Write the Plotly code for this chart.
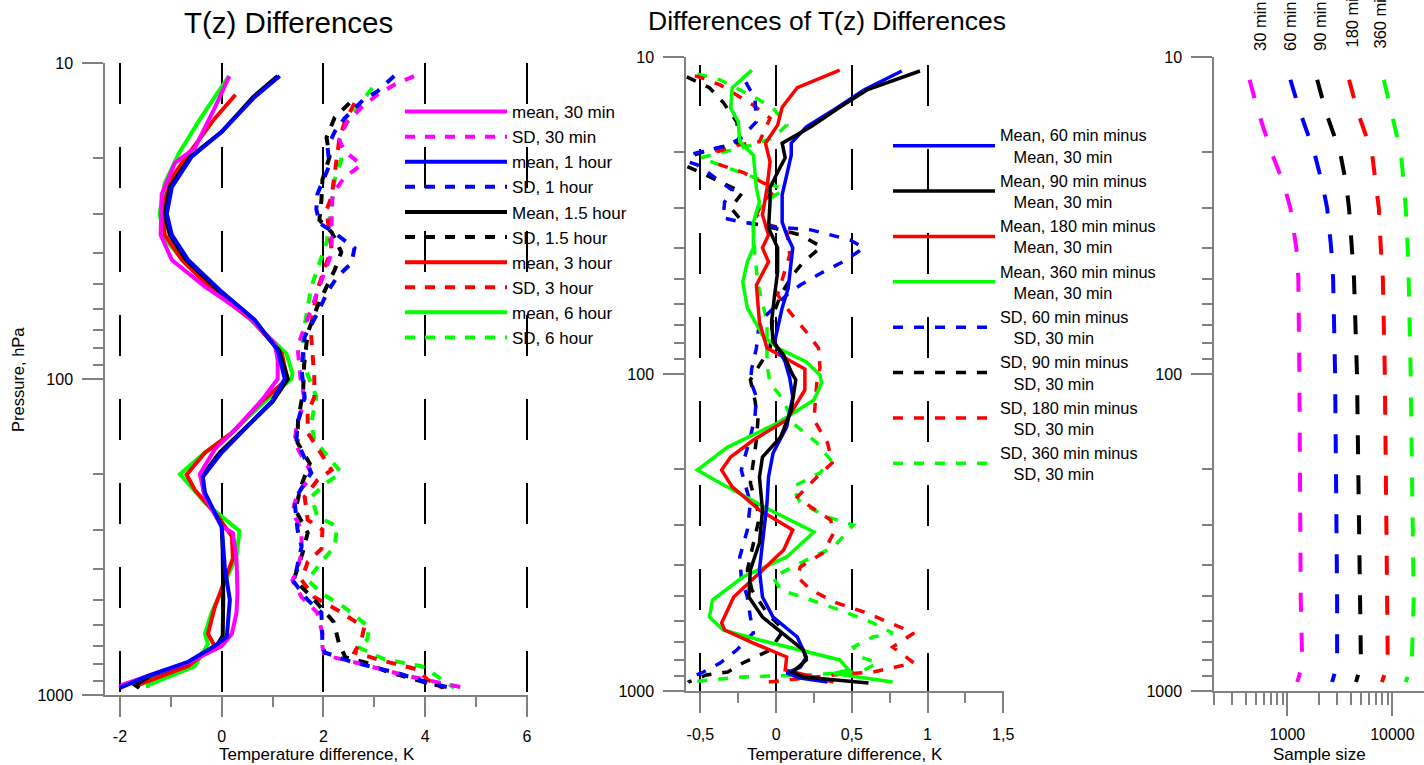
import plotly.graph_objects as go

W, H = 1424, 765
FONT = "Liberation Sans, Arial, sans-serif"

# ---------------- Left panel: T(z) differences (K) vs pressure (hPa) ----------------
p_m30 = [11, 14, 17.5, 18.6, 20.7, 26, 35, 42, 51, 62, 77, 87, 100, 116, 142, 167, 200, 236, 293, 307, 370, 475, 550, 640, 700, 790, 870, 930, 950]
t_m30 = [0.15, -0.15, -0.45, -0.53, -0.92, -1.18, -1.2, -0.98, -0.33, 0.45, 1.04, 1.1, 1.1, 0.8, 0.31, -0.14, -0.43, -0.33, 0.0, 0.22, 0.29, 0.31, 0.29, 0.2, 0.0, -0.66, -1.45, -1.96, -2.0]

p_m60 = [11, 12.8, 16.5, 19.8, 24.7, 30, 35, 42, 53, 65, 81, 100, 118, 145, 171, 204, 229, 293, 395, 500, 655, 700, 785, 870, 930, 950]
t_m60 = [1.14, 0.65, 0.0, -0.59, -0.98, -1.08, -0.98, -0.66, 0.0, 0.65, 1.1, 1.24, 0.98, 0.45, 0.0, -0.37, -0.33, 0.0, 0.06, 0.16, 0.1, -0.14, -0.66, -1.45, -1.9, -2.0]

p_m90 = [11, 12.8, 16.5, 19.8, 24.7, 30, 35, 42, 53, 65, 81, 100, 118, 145, 171, 204, 229, 293, 350, 500, 650, 700, 790, 870, 930, 950]
t_m90 = [1.1, 0.62, 0.0, -0.62, -1.02, -1.12, -1.02, -0.7, -0.04, 0.62, 1.12, 1.3, 1.0, 0.42, -0.04, -0.4, -0.35, 0.0, 0.02, 0.03, 0.02, -0.1, -0.66, -1.4, -1.7, -1.62]

p_m180 = [12.6, 15, 18.8, 23, 28.6, 35, 42, 53, 65, 83, 100, 118, 148, 171, 201, 224, 272, 315, 370, 436, 530, 640, 700, 810, 930, 950]
t_m180 = [0.27, -0.14, -0.59, -0.98, -1.16, -1.12, -0.78, -0.14, 0.59, 1.18, 1.29, 0.78, 0.2, -0.33, -0.69, -0.53, -0.08, 0.2, 0.22, 0.06, -0.14, -0.27, -0.14, -0.66, -1.65, -1.65]

p_m360 = [11, 15, 19.3, 24, 30, 36, 44, 53, 68, 83, 96, 100, 118, 148, 171, 200, 246, 272, 303, 364, 455, 550, 640, 690, 810, 930, 950]
t_m360 = [0.14, -0.42, -0.84, -1.12, -1.22, -1.12, -0.66, 0.0, 0.7, 1.27, 1.39, 1.37, 0.84, 0.2, -0.33, -0.82, -0.33, 0.0, 0.35, 0.29, 0.02, -0.2, -0.33, -0.27, -0.53, -1.45, -1.45]

p_s30 = [11, 11.7, 12.6, 13.8, 15.5, 17.5, 19, 21, 23, 26, 30.5, 40, 46, 53, 65, 79, 100, 116, 142, 159, 194, 205, 229, 264, 300, 355, 410, 433, 490, 549, 640, 705, 748, 792, 866, 912, 950]
t_s30 = [3.78, 3.4, 3.06, 2.75, 2.45, 2.31, 2.41, 2.75, 2.41, 2.18, 2.16, 2.16, 2.02, 1.88, 1.69, 1.49, 1.55, 1.63, 1.47, 1.43, 1.73, 1.76, 1.49, 1.39, 1.57, 1.57, 1.47, 1.39, 1.57, 1.88, 1.98, 1.98, 2.02, 2.67, 3.59, 4.24, 4.78]

p_s60 = [11, 12.3, 13, 15, 16.5, 18.5, 21, 23, 26, 29, 32.1, 34.5, 38.5, 43, 47.5, 53, 62, 73.5, 93.5, 114, 138, 156, 198, 219, 242, 300, 339, 402, 433, 500, 549, 682, 733, 785, 852, 913, 950]
t_s60 = [3.39, 3.06, 2.8, 2.41, 2.22, 2.08, 2.12, 2.02, 1.88, 1.86, 1.92, 2.22, 2.61, 2.55, 2.27, 2.08, 1.88, 1.63, 1.57, 1.63, 1.49, 1.47, 1.76, 1.59, 1.43, 1.49, 1.57, 1.47, 1.39, 1.69, 1.96, 1.98, 2.02, 2.55, 3.45, 4.04, 4.5]

p_s90 = [13.4, 14.9, 17.2, 19.8, 23.4, 27.1, 31.4, 34.3, 39.7, 45.2, 51.1, 59, 71.5, 90, 110, 135, 159, 185, 220, 260, 307, 355, 430, 500, 587, 682, 760, 792, 843, 875, 912, 950]
t_s90 = [2.51, 2.22, 2.06, 2.12, 1.98, 1.96, 1.92, 2.16, 2.35, 2.22, 2.06, 1.88, 1.69, 1.62, 1.6, 1.5, 1.49, 1.73, 1.55, 1.45, 1.69, 1.59, 1.42, 1.82, 2.2, 2.3, 2.43, 2.85, 3.24, 3.59, 4.0, 4.45]

p_s180 = [13.4, 15.5, 17.5, 22.9, 26.5, 29.2, 39, 42, 52.2, 63.6, 73.7, 98.8, 114, 128, 148, 194, 209, 236, 279, 300, 345, 379, 433, 490, 538, 610, 668, 733, 771, 830, 893, 950]
t_s180 = [2.61, 2.41, 2.31, 2.22, 2.16, 2.06, 2.16, 2.08, 1.88, 1.78, 1.76, 1.82, 1.82, 1.69, 1.69, 2.16, 1.88, 1.63, 1.69, 1.98, 1.96, 1.69, 1.57, 1.82, 2.27, 2.8, 2.75, 2.61, 3.06, 3.84, 4.04, 4.35]

p_s360 = [12, 15.4, 17.5, 20.3, 23.4, 27.7, 37.1, 43, 51.1, 61.9, 73.7, 91.6, 114, 138, 156, 198, 213, 236, 272, 293, 339, 379, 433, 476, 528, 610, 668, 705, 771, 811, 852, 950]
t_s360 = [2.96, 2.45, 2.31, 2.35, 2.22, 2.16, 2.06, 1.92, 1.76, 1.67, 1.59, 1.63, 1.86, 1.76, 1.82, 2.35, 2.06, 1.76, 1.88, 2.27, 2.22, 1.96, 1.69, 1.96, 2.41, 2.9, 2.86, 2.67, 3.2, 3.92, 4.14, 4.57]

# ---------------- Middle panel: differences of differences (K) ----------------
p_dm60 = [11.07, 12.7, 14.7, 16.6, 18.7, 20.4, 23.6, 27.2, 33.2, 36.4, 40.0, 53.6, 61.9, 79.3, 91.6, 103, 118.2, 146.9, 177.5, 211.3, 255.3, 341.3, 415, 505.1, 584.3, 675.6, 781.2, 840, 877.8, 910, 937]
t_dm60 = [0.83, 0.58, 0.38, 0.2, 0.1, 0.1, 0.07, 0.04, 0.04, 0.07, 0.11, 0.08, 0.04, -0.01, 0.06, 0.09, 0.11, 0.07, -0.02, -0.05, -0.06, -0.09, -0.11, -0.09, -0.02, 0.14, 0.2, 0.16, 0.07, 0.16, 0.34]

p_dm90 = [11.07, 12.7, 14.4, 16.6, 18.7, 20.8, 23.1, 25.9, 28.7, 34.6, 40.0, 47.7, 56.3, 68.5, 79.3, 87.1, 100.7, 104.4, 130, 158, 182.8, 211.3, 268.5, 341.3, 415, 505.1, 584.3, 675.6, 742.7, 798, 871, 903, 944]
t_dm90 = [0.95, 0.6, 0.42, 0.23, 0.04, 0.06, 0.01, -0.04, -0.04, -0.05, 0.01, 0.01, -0.01, -0.03, -0.02, 0.05, 0.11, 0.13, 0.1, 0.03, -0.09, -0.11, -0.09, -0.11, -0.17, -0.18, -0.09, 0.07, 0.18, 0.2, 0.11, 0.18, 0.61]

p_dm180 = [11.0, 12.5, 14.4, 16.4, 18.7, 21.4, 25.9, 31.5, 36.4, 40.0, 44.3, 52.4, 68.5, 82.8, 96.4, 112.3, 139.7, 161.5, 182.8, 200.9, 227, 268.5, 310.6, 359, 424.6, 505.1, 610.3, 642, 705.8, 781.2, 858.6, 937]
t_dm180 = [0.42, 0.14, 0.04, 0.01, -0.07, -0.04, -0.06, -0.09, -0.05, -0.09, -0.05, -0.13, -0.11, -0.06, 0.19, 0.19, 0.07, -0.15, -0.3, -0.36, -0.29, -0.11, 0.11, 0.05, -0.11, -0.28, -0.36, -0.34, -0.15, 0.07, 0.06, 0.38]

p_dm360 = [11.0, 11.8, 12.5, 14.5, 16.0, 18.5, 20.4, 25.9, 28.7, 33.2, 40.0, 44.3, 51.3, 61.9, 75.4, 82.8, 91.6, 100.7, 106.7, 120.8, 142.8, 170, 200.9, 220.7, 268.5, 315, 377.7, 436.9, 516.4, 584.3, 642, 690.4, 758.6, 798, 858.6, 880, 937]
t_dm360 = [-0.16, -0.23, -0.29, -0.3, -0.25, -0.24, -0.15, -0.13, -0.11, -0.15, -0.15, -0.19, -0.22, -0.19, -0.09, 0.01, 0.2, 0.29, 0.3, 0.25, 0.01, -0.32, -0.52, -0.37, -0.04, 0.25, 0.07, -0.22, -0.42, -0.44, -0.35, -0.11, 0.23, 0.42, 0.48, 0.38, 0.77]

p_ds60 = [12.0, 13.5, 16.0, 18.0, 19.0, 19.9, 20.8, 21.9, 24.1, 26.3, 28.7, 32.2, 33.2, 34.4, 35.1, 37.8, 40.0, 44.3, 47.7, 52.4, 56.3, 60.6, 68.5, 82.8, 95.7, 104.4, 118.2, 136.6, 158, 200.9, 255.3, 310.6, 377.7, 436.9, 505.1, 584.3, 656.2, 742.7, 816, 871, 910, 937]
t_ds60 = [-0.2, -0.14, -0.13, -0.23, -0.32, -0.48, -0.66, -0.52, -0.4, -0.29, -0.34, -0.35, -0.22, 0.0, 0.23, 0.49, 0.58, 0.44, 0.31, 0.16, 0.07, 0.0, -0.11, -0.13, -0.16, -0.17, -0.13, -0.14, -0.17, -0.23, -0.17, -0.19, -0.24, -0.23, -0.19, -0.17, -0.15, -0.26, -0.37, -0.48, -0.57, -0.58]

p_ds90 = [11.55, 12.5, 13.9, 16.0, 18.5, 19.0, 19.9, 21.4, 23.1, 24.8, 26.7, 29.9, 33.2, 33.9, 36.4, 39.7, 44.3, 48.7, 56.3, 65.2, 82.8, 104.4, 120.8, 139.7, 161.5, 186.8, 220.7, 282.6, 341.3, 415, 479.9, 567.5, 642, 742.7, 816, 871, 890, 937]
t_ds90 = [-0.59, -0.44, -0.35, -0.26, -0.24, -0.32, -0.48, -0.66, -0.5, -0.37, -0.22, -0.3, -0.22, -0.09, 0.16, 0.3, 0.18, 0.11, 0.03, -0.02, -0.04, -0.17, -0.14, -0.12, -0.13, -0.15, -0.17, -0.11, -0.15, -0.19, -0.16, -0.06, 0.05, -0.04, -0.22, -0.32, -0.46, -0.58]

p_ds180 = [11.0, 11.6, 12.25, 13.2, 14.2, 15.6, 18.5, 19.0, 19.9, 21.9, 23.1, 25.3, 26.7, 28.7, 31.5, 33.9, 35.1, 42.1, 48.7, 56.3, 63.7, 73.7, 82.8, 95.7, 104.4, 139.7, 165, 190.9, 211.3, 244.4, 262.8, 288.8, 317.4, 367, 406, 437, 480, 527.7, 567.5, 628.2, 656.2, 726.4, 816, 871, 890, 944]
t_ds180 = [-0.67, -0.5, -0.37, -0.26, -0.15, -0.04, -0.11, -0.26, -0.39, -0.37, -0.22, -0.06, -0.02, -0.09, -0.13, -0.04, 0.07, 0.09, 0.05, 0.01, 0.09, 0.2, 0.28, 0.29, 0.27, 0.25, 0.34, 0.37, 0.27, 0.14, 0.23, 0.36, 0.38, 0.31, 0.16, 0.14, 0.23, 0.4, 0.6, 0.82, 0.91, 0.77, 0.91, 0.64, 0.38, -0.11]

p_ds360 = [11.3, 11.8, 13.5, 14.5, 16.4, 18.0, 19.0, 19.9, 20.8, 23.1, 24.8, 26.3, 27.9, 30.8, 34.6, 42.1, 52.0, 68.5, 93.7, 106.7, 120.8, 142.8, 165, 186.8, 205, 227, 255.3, 282.6, 299.5, 351.4, 386.3, 436.9, 479.9, 516.4, 555, 610.3, 656.2, 675.6, 726.4, 781.2, 816, 871, 890, 903, 937]
t_ds360 = [-0.52, -0.37, -0.13, -0.02, 0.07, -0.02, -0.17, -0.35, -0.5, -0.24, -0.06, 0.05, -0.04, -0.13, -0.15, -0.14, -0.12, -0.06, -0.06, -0.04, 0.05, 0.11, 0.27, 0.36, 0.29, 0.11, 0.16, 0.34, 0.51, 0.38, 0.2, -0.02, 0.03, 0.23, 0.42, 0.64, 0.77, 0.64, 0.51, 0.56, 0.67, 0.56, 0.2, -0.22, -0.58]

# ---------------- Right panel: sample size vs pressure ----------------
p_n = [11.8, 15, 20, 25, 30, 40, 50, 100, 516, 828, 937]
n_30 = [436, 531, 706, 917, 1068, 1216, 1271, 1300, 1340, 1387, 1243]
n_60 = [1068, 1328, 1801, 2143, 2393, 2611, 2726, 2848, 2975, 2975, 2667]
n_90 = [1923, 2340, 3176, 3620, 3865, 4130, 4310, 4600, 4911, 5020, 4500]
n_180 = [3865, 4700, 6380, 6960, 7430, 7760, 8110, 8470, 9040, 9040, 7940]
n_360 = [8290, 9860, 12020, 12830, 13400, 13990, 14300, 14930, 15950, 15270, 13400]
n_labels = ["30 min", "60 min", "90 min", "180 min", "360 min"]

# tick labels
x1_ticks = [-2, 0, 2, 4, 6]
x1_text = ["-2", "0", "2", "4", "6"]
x2_ticks = [-0.5, 0, 0.5, 1, 1.5]
x2_text = ["-0,5", "0", "0,5", "1", "1,5"]
x3_ticks = [1000, 10000]
x3_text = ["1000", "10000"]
y_ticks = [10, 100, 1000]
y_text = ["10", "100", "1000"]

MAG, BLU, BLK, RED, GRN = "#ff00ff", "#0000ff", "#000000", "#ff0000", "#00ff00"

fig = go.Figure()

def add(x, y, name, color, dash, width, xa, ya, legend, rank, showlegend=True):
    fig.add_trace(go.Scatter(
        x=x, y=y, name=name, mode="lines", xaxis=xa, yaxis=ya,
        line=dict(color=color, width=width, dash=dash),
        legend=legend, legendrank=rank, showlegend=showlegend))

SD1 = "10px,10px"
# left panel (draw order: SD then mean)
add(t_s360, p_s360, "SD, 6 hour", GRN, SD1, 4, "x", "y", "legend", 10)
add(t_s180, p_s180, "SD, 3 hour", RED, SD1, 4, "x", "y", "legend", 8)
add(t_s90, p_s90, "SD, 1.5 hour", BLK, SD1, 4, "x", "y", "legend", 6)
add(t_s30, p_s30, "SD, 30 min", MAG, SD1, 4, "x", "y", "legend", 2)
add(t_s60, p_s60, "SD, 1 hour", BLU, SD1, 4, "x", "y", "legend", 4)
add(t_m360, p_m360, "mean, 6 hour", GRN, "solid", 4, "x", "y", "legend", 9)
add(t_m180, p_m180, "mean, 3 hour", RED, "solid", 4, "x", "y", "legend", 7)
add(t_m90, p_m90, "Mean, 1.5 hour", BLK, "solid", 4, "x", "y", "legend", 5)
add(t_m30, p_m30, "mean, 30 min", MAG, "solid", 4, "x", "y", "legend", 1)
add(t_m60, p_m60, "mean, 1 hour", BLU, "solid", 4, "x", "y", "legend", 3)

# middle panel
SD2 = "10px,11px"
ind = "\u00a0\u00a0\u00a0"
add(t_ds360, p_ds360, "SD, 360 min minus<br>" + ind + "SD, 30 min", GRN, SD2, 3.5, "x2", "y2", "legend2", 8)
add(t_ds180, p_ds180, "SD, 180 min minus<br>" + ind + "SD, 30 min", RED, SD2, 3.5, "x2", "y2", "legend2", 7)
add(t_ds90, p_ds90, "SD, 90 min minus<br>" + ind + "SD, 30 min", BLK, SD2, 3.5, "x2", "y2", "legend2", 6)
add(t_ds60, p_ds60, "SD, 60 min minus<br>" + ind + "SD, 30 min", BLU, SD2, 3.5, "x2", "y2", "legend2", 5)
add(t_dm360, p_dm360, "Mean, 360 min minus<br>" + ind + "Mean, 30 min", GRN, "solid", 3.5, "x2", "y2", "legend2", 4)
add(t_dm180, p_dm180, "Mean, 180 min minus<br>" + ind + "Mean, 30 min", RED, "solid", 3.5, "x2", "y2", "legend2", 3)
add(t_dm60, p_dm60, "Mean, 60 min minus<br>" + ind + "Mean, 30 min", BLU, "solid", 3.5, "x2", "y2", "legend2", 1)
add(t_dm90, p_dm90, "Mean, 90 min minus<br>" + ind + "Mean, 30 min", BLK, "solid", 3.5, "x2", "y2", "legend2", 2)

# right panel
SD3 = "19px,21px"
for nvals, col, lab in zip([n_30, n_60, n_90, n_180, n_360], [MAG, BLU, BLK, RED, GRN], n_labels):
    add(nvals, p_n, lab, col, SD3, 4, "x3", "y3", "legend", 99, showlegend=False)

AX = "#808080"
TF = dict(family=FONT, size=16, color="black")

def xdom(a, b):
    return [a / W, b / W]

def ydom(top, bot):
    return [1 - bot / H, 1 - top / H]

yminor = dict(tickvals=[20, 30, 40, 50, 60, 70, 80, 90, 200, 300, 400, 500, 600, 700, 800, 900],
              ticklen=10, tickwidth=1.5, tickcolor=AX, ticks="outside", showgrid=False)

def yaxis_cfg(dom, anchor):
    return dict(domain=dom, anchor=anchor, type="log", range=[3, 1], tickmode="array",
                tickvals=y_ticks, ticktext=y_text, ticks="outside", ticklen=21, tickwidth=1.5,
                tickcolor=AX, showline=True, linecolor=AX, linewidth=1.5, showgrid=False,
                zeroline=False, tickfont=TF, ticklabelstandoff=6, minor=yminor,
                automargin=False)

fig.update_layout(
    template="none",
    width=W, height=H, margin=dict(l=0, r=0, t=0, b=0, autoexpand=False),
    paper_bgcolor="white", plot_bgcolor="white",
    font=dict(family=FONT, color="black"),
    xaxis=dict(domain=xdom(105, 528), anchor="y", range=[-2.294, 6.02], tickmode="array",
               tickvals=x1_ticks, ticktext=x1_text, ticks="outside", ticklen=20, tickwidth=1.5,
               tickcolor=AX, showline=True, linecolor=AX, linewidth=1.5, zeroline=False,
               showgrid=True, gridcolor="black", gridwidth=2, griddash="41px,43px",
               tickfont=TF, ticklabelstandoff=6, automargin=False,
               minor=dict(tickvals=[-1, 1, 3, 5], ticklen=10, tickwidth=1.5, tickcolor=AX,
                          ticks="outside", showgrid=False)),
    yaxis=yaxis_cfg(ydom(63, 695), "x"),
    xaxis2=dict(domain=xdom(686, 1004), anchor="y2", range=[-0.595, 1.505], tickmode="array",
                tickvals=x2_ticks, ticktext=x2_text, ticks="outside", ticklen=20, tickwidth=1.5,
                tickcolor=AX, showline=True, linecolor=AX, linewidth=1.5, zeroline=False,
                showgrid=True, gridcolor="black", gridwidth=2, griddash="0px,8px,41px,35px",
                tickfont=TF, ticklabelstandoff=8, automargin=False,
                minor=dict(tickvals=[-0.25, 0.25, 0.75, 1.25], ticklen=10, tickwidth=1.5,
                           tickcolor=AX, ticks="outside", showgrid=False)),
    yaxis2=yaxis_cfg(ydom(57, 691), "x2"),
    xaxis3=dict(domain=xdom(1214, 1424), anchor="y3", type="log", range=[2.30103, 4.30103],
                tickmode="array", tickvals=x3_ticks, ticktext=x3_text, ticks="outside",
                ticklen=23, tickwidth=1.5, tickcolor=AX, showline=True, linecolor=AX,
                linewidth=1.5, zeroline=False, showgrid=False, tickfont=TF, ticklabelstandoff=5,
                automargin=False,
                minor=dict(tickvals=[200, 300, 400, 500, 600, 700, 800, 900,
                                     2000, 3000, 4000, 5000, 6000, 7000, 8000, 9000],
                           ticklen=12, tickwidth=1.5, tickcolor=AX, ticks="outside", showgrid=False)),
    yaxis3=yaxis_cfg(ydom(57, 691), "x3"),
    legend=dict(x=400 / W, y=1 - 94 / H, xanchor="left", yanchor="top", bgcolor="rgba(0,0,0,0)",
                borderwidth=0, itemwidth=102, tracegroupgap=0,
                font=dict(family=FONT, size=17, color="black")),
    legend2=dict(x=888 / W, y=1 - 118 / H, xanchor="left", yanchor="top", bgcolor="rgba(0,0,0,0)",
                 borderwidth=0, itemwidth=102, tracegroupgap=0,
                 font=dict(family=FONT, size=16.3, color="black")),
)

ann = []
ann.append(dict(text="T(z) Differences", x=288 / W, y=1 - 22 / H, xref="paper", yref="paper",
                showarrow=False, xanchor="center", yanchor="middle",
                font=dict(family=FONT, size=29.5, color="black")))
ann.append(dict(text="Differences of T(z) Differences", x=827 / W, y=1 - 21 / H, xref="paper",
                yref="paper", showarrow=False, xanchor="center", yanchor="middle",
                font=dict(family=FONT, size=26.5, color="black")))
for xc, txt in [(316.5, "Temperature difference, K"), (845, "Temperature difference, K"),
                (1319, "Sample size")]:
    ann.append(dict(text=txt, x=xc / W, y=1 - 754 / H, xref="paper", yref="paper",
                    showarrow=False, xanchor="center", yanchor="middle",
                    font=dict(family=FONT, size=17, color="black")))
ann.append(dict(text="Pressure, hPa", x=18 / W, y=1 - 380 / H, xref="paper", yref="paper",
                showarrow=False, xanchor="center", yanchor="middle", textangle=-90,
                font=dict(family=FONT, size=16.5, color="black")))
for xc, yb, txt in zip([1260, 1290, 1320, 1352, 1380], [53, 53, 53, 50, 51], n_labels):
    ann.append(dict(text=txt, x=xc / W, y=1 - yb / H, xref="paper", yref="paper",
                    showarrow=False, xanchor="center", yanchor="bottom", textangle=-90,
                    font=dict(family=FONT, size=16.5, color="black")))
fig.update_layout(annotations=ann)

fig.write_html("out.html")
